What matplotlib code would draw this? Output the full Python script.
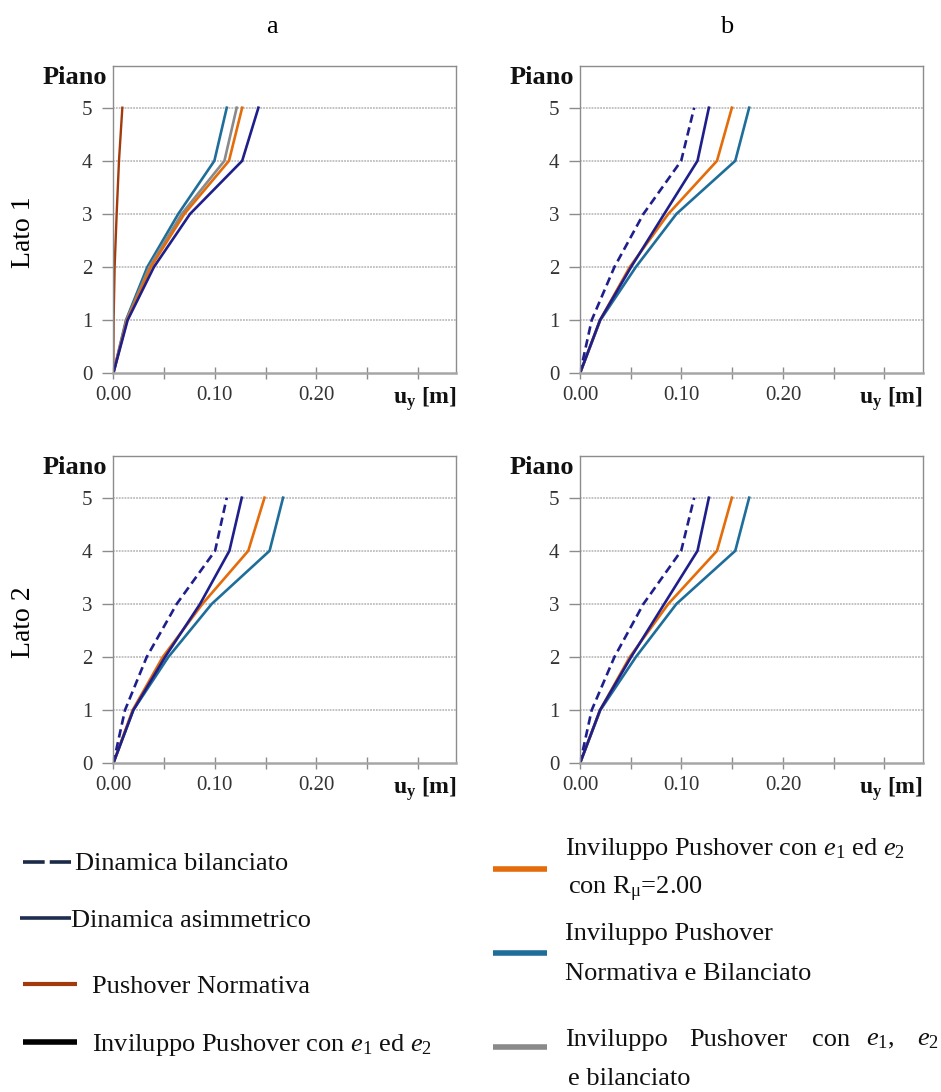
import matplotlib
matplotlib.use("Agg")
import matplotlib.pyplot as plt
from matplotlib.lines import Line2D
from matplotlib.ticker import FixedLocator, FuncFormatter

plt.rcParams['font.family'] = ['Liberation Serif', 'DejaVu Serif']
plt.rcParams['mathtext.fontset'] = 'custom'
plt.rcParams['mathtext.rm'] = 'Liberation Serif'
plt.rcParams['mathtext.it'] = 'Liberation Serif:italic'
plt.rcParams['mathtext.bf'] = 'Liberation Serif:bold'

# ---- data: storey displacements u_y [m] for floors 0..5 ----
floors = [0, 1, 2, 3, 4, 5]

# Lato 1, case a
a_push_norm = [0, 0.0003, 0.0013, 0.0033, 0.0056, 0.0089]
a_env_e1e2 = [0, 0.0141, 0.0400, 0.0756, 0.1270, 0.1430]
a_env_rmu = [0, 0.0135, 0.0370, 0.0700, 0.1140, 0.1270]
a_env_e1e2_bil = [0, 0.0130, 0.0355, 0.0674, 0.1095, 0.1216]
a_env_norm_bil = [0, 0.0125, 0.0335, 0.0640, 0.0996, 0.1118]

# Lato 1, case b
b_dyn_bil = [0, 0.0115, 0.0339, 0.0625, 0.0997, 0.1125]
b_dyn_asym = [0, 0.0197, 0.0503, 0.0830, 0.1158, 0.1270]
b_env_rmu = [0, 0.0197, 0.0490, 0.0870, 0.1350, 0.1497]
b_env_norm_bil = [0, 0.0200, 0.0550, 0.0950, 0.1530, 0.1667]

# Lato 2, case a
c_dyn_bil = [0, 0.0115, 0.0329, 0.0625, 0.1003, 0.1118]
c_dyn_asym = [0, 0.0197, 0.0510, 0.0855, 0.1144, 0.1266]
c_env_rmu = [0, 0.0190, 0.0487, 0.0878, 0.1330, 0.1490]
c_env_norm_bil = [0, 0.0197, 0.0542, 0.0970, 0.1540, 0.1673]

# Lato 2, case b
d_dyn_bil = [0, 0.0115, 0.0339, 0.0625, 0.0997, 0.1125]
d_dyn_asym = [0, 0.0197, 0.0503, 0.0830, 0.1158, 0.1270]
d_env_rmu = [0, 0.0197, 0.0490, 0.0870, 0.1350, 0.1497]
d_env_norm_bil = [0, 0.0200, 0.0550, 0.0950, 0.1530, 0.1667]

x_ticks = [0.00, 0.05, 0.10, 0.15, 0.20, 0.25, 0.30]
x_labelled = ["0.00", "0.10", "0.20"]
column_titles = ["a", "b"]
row_titles = ["Lato 1", "Lato 2"]

NAVY = "#1f1f8c"
ORANGE = "#e46c0a"
TEAL = "#1f6e9a"
GRAY = "#8a8a8a"
BROWN = "#a23a0c"
FRAME = "#8c8c8c"

W, H = 941, 1092
fig = plt.figure(figsize=(W / 100, H / 100), dpi=100)


def fx(px):
    return px / W


def fy(py):
    return 1 - py / H


def make_axes(left_px, top_px):
    width_px, height_px = 343, 307.3
    ax = fig.add_axes([fx(left_px), fy(top_px + height_px), width_px / W, height_px / H])
    ax.set_xlim(0, 0.338)
    ax.set_ylim(0, 5.785)
    ax.xaxis.set_major_locator(FixedLocator(x_ticks))
    ax.xaxis.set_major_formatter(FuncFormatter(
        lambda v, p: f"{v:.2f}" if f"{v:.2f}" in x_labelled else ""))
    ax.set_yticks(floors)
    ax.set_yticklabels([str(f) for f in floors])
    ax.tick_params(axis='x', direction='inout', length=8, width=1, color=FRAME,
                   labelsize=15, labelcolor="#333333", pad=5)
    ax.tick_params(axis='y', direction='out', length=8, width=1, color=FRAME,
                   labelsize=15, labelcolor="#333333", pad=7)
    for name, sp in ax.spines.items():
        sp.set_color(FRAME)
        sp.set_linewidth(1.0)
    ax.spines['bottom'].set_color("#a6a6a6")
    ax.spines['bottom'].set_linewidth(1.8)
    for f in floors[1:]:
        ax.axhline(f, color="#bdbdbd", lw=1.3, ls=(0, (1, 0.6)), zorder=0)
    ax.text(-0.018, 1.0, "Piano", transform=ax.transAxes, ha='right', va='top',
            fontsize=19, fontweight='bold', color="#111111")
    ax.text(1.0, -0.085, r"$\mathbf{u}_{\mathbf{y}}$ [m]", transform=ax.transAxes,
            ha='right', va='center', fontsize=17, fontweight='bold', color="#111111")
    return ax


lw = 1.9
dash = (0, (3.2, 1.8))

ax_a = make_axes(113.3, 66)
ax_a.plot(a_push_norm, floors, color=BROWN, lw=1.7)
ax_a.plot(a_env_norm_bil, floors, color=TEAL, lw=lw)
ax_a.plot(a_env_e1e2_bil, floors, color=GRAY, lw=lw)
ax_a.plot(a_env_rmu, floors, color=ORANGE, lw=lw)
ax_a.plot(a_env_e1e2, floors, color=NAVY, lw=lw)

panels = [
    (580, 66, b_dyn_bil, b_dyn_asym, b_env_rmu, b_env_norm_bil),
    (113.3, 456, c_dyn_bil, c_dyn_asym, c_env_rmu, c_env_norm_bil),
    (580, 456, d_dyn_bil, d_dyn_asym, d_env_rmu, d_env_norm_bil),
]
for left, top, dyn_bil, dyn_asym, env_rmu, env_nb in panels:
    ax = make_axes(left, top)
    ax.plot(env_nb, floors, color=TEAL, lw=lw)
    ax.plot(env_rmu, floors, color=ORANGE, lw=lw)
    ax.plot(dyn_asym, floors, color=NAVY, lw=lw)
    ax.plot(dyn_bil, floors, color=NAVY, lw=lw, ls=dash)

# column and row titles
fig.text(fx(272), fy(27), column_titles[0], ha='center', va='center', fontsize=19)
fig.text(fx(727), fy(27), column_titles[1], ha='center', va='center', fontsize=19)
fig.text(fx(24), fy(232), row_titles[0], rotation=90, ha='center', va='center', fontsize=20)
fig.text(fx(24), fy(622), row_titles[1], rotation=90, ha='center', va='center', fontsize=20)

# ---- legend ----
LFS = 19


def leg_line(x0, x1, y, color, width, style='-'):
    fig.add_artist(Line2D([fx(x0), fx(x1)], [fy(y), fy(y)], color=color,
                          lw=width, ls=style, solid_capstyle='butt',
                          dash_capstyle='butt'))


def leg_text(x, y, s):
    fig.text(fx(x), fy(y), s, ha='left', va='center', fontsize=LFS, color="#111111")


leg_line(23, 71, 862, "#1b2a47", 2.6, (0, (6.0, 1.4)))
leg_text(75, 864, "Dinamica bilanciato")
leg_line(20, 71, 918, "#1f2e4f", 2.6)
leg_text(71, 921, "Dinamica asimmetrico")
leg_line(23, 77, 984, BROWN, 3.0)
leg_text(92, 987, "Pushover Normativa")
leg_line(23, 77, 1042, "#000000", 4.0)
leg_text(92, 1045, r"Inviluppo Pushover con $e_{\mathit{1}}$ ed $e_{\mathit{2}}$")

leg_line(493, 547, 869, ORANGE, 4.0)
leg_text(565, 849, r"Inviluppo Pushover con $e_{\mathit{1}}$ ed $e_{\mathit{2}}$")
leg_text(568, 889, r"con R$_{\mathrm{\mu}}$=2.00")
leg_line(493, 547, 953, TEAL, 4.0)
leg_text(565, 934, "Inviluppo Pushover")
leg_text(565, 974, "Normativa e Bilanciato")
leg_line(493, 547, 1047, GRAY, 4.0)
for xw, word in [(565, "Inviluppo"), (689, "Pushover"), (812, "con"),
                 (866, r"$e_{\mathit{1}}$,"), (917, r"$e_{\mathit{2}}$")]:
    leg_text(xw, 1040, word)
leg_text(568, 1079, "e bilanciato")

fig.savefig("out.png", dpi=100)
